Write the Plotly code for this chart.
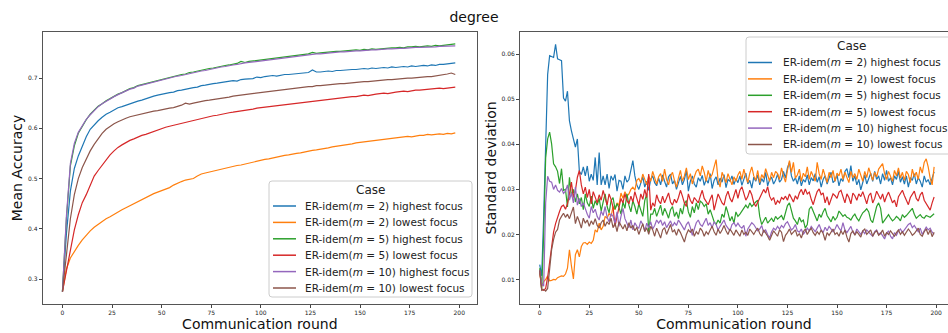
import plotly.graph_objects as go

# ---------------- data ----------------
rounds_acc = list(range(0, 200, 2))
rounds_std = list(range(200))

case_labels = [
    "ER-idem(<i>m</i> = 2) highest focus",
    "ER-idem(<i>m</i> = 2) lowest focus",
    "ER-idem(<i>m</i> = 5) highest focus",
    "ER-idem(<i>m</i> = 5) lowest focus",
    "ER-idem(<i>m</i> = 10) highest focus",
    "ER-idem(<i>m</i> = 10) lowest focus",
]
case_colors = ["#1f77b4", "#ff7f0e", "#2ca02c", "#d62728", "#9467bd", "#8c564b"]

x_ticks = [0, 25, 50, 75, 100, 125, 150, 175, 200]
acc_ticks = [0.3, 0.4, 0.5, 0.6, 0.7]
std_ticks = [0.01, 0.02, 0.03, 0.04, 0.05, 0.06]

# mean accuracy, every second round
acc_m2_high = [
    .275, .390, .475, .520, .545, .565, .583, .598, .607, .615,
    .622, .628, .632, .637, .641, .643, .646, .649, .651, .654,
    .656, .659, .661, .664, .666, .668, .669, .671, .672, .675,
    .676, .678, .679, .681, .682, .685, .686, .688, .689, .690,
    .691, .693, .694, .695, .694, .697, .698, .698, .699, .702,
    .701, .703, .704, .705, .704, .706, .707, .707, .708, .709,
    .709, .710, .711, .716, .712, .712, .713, .714, .713, .715,
    .715, .716, .716, .717, .717, .718, .719, .718, .720, .719,
    .720, .721, .720, .722, .721, .722, .723, .722, .724, .723,
    .724, .725, .724, .726, .725, .727, .727, .728, .729, .730,
]
acc_m2_low = [
    .275, .320, .342, .355, .367, .378, .388, .396, .403, .409,
    .415, .420, .424, .429, .434, .438, .442, .446, .450, .455,
    .459, .463, .466, .470, .473, .476, .479, .482, .487, .491,
    .494, .497, .499, .500, .505, .509, .511, .513, .515, .517,
    .518, .520, .522, .524, .526, .527, .529, .531, .533, .535,
    .536, .538, .539, .541, .543, .544, .546, .547, .549, .550,
    .551, .553, .555, .556, .557, .558, .560, .561, .563, .564,
    .565, .567, .568, .569, .571, .572, .573, .574, .575, .576,
    .577, .578, .579, .580, .581, .581, .582, .584, .583, .585,
    .586, .586, .588, .587, .588, .589, .588, .590, .589, .591,
]
acc_m5_high = [
    .275, .420, .525, .565, .590, .605, .617, .628, .636, .644,
    .649, .655, .659, .664, .668, .671, .675, .679, .681, .685,
    .687, .689, .692, .693, .696, .697, .700, .701, .704, .705,
    .707, .708, .711, .712, .714, .716, .717, .719, .720, .722,
    .724, .725, .726, .728, .729, .733, .731, .733, .734, .736,
    .737, .738, .739, .740, .741, .742, .743, .744, .745, .746,
    .747, .747, .748, .751, .749, .750, .751, .752, .752, .753,
    .753, .754, .755, .755, .756, .755, .757, .756, .758, .757,
    .758, .759, .759, .760, .760, .761, .760, .762, .762, .763,
    .762, .763, .764, .763, .765, .764, .765, .765, .766, .768,
]
acc_m5_low = [
    .275, .315, .360, .398, .428, .452, .468, .487, .505, .516,
    .526, .538, .547, .555, .562, .567, .572, .576, .579, .583,
    .586, .588, .591, .593, .596, .600, .602, .604, .606, .608,
    .610, .612, .614, .616, .618, .620, .622, .623, .625, .626,
    .628, .629, .631, .632, .633, .634, .636, .637, .638, .640,
    .641, .642, .643, .644, .645, .646, .647, .648, .649, .650,
    .651, .652, .653, .654, .655, .656, .657, .657, .658, .659,
    .660, .661, .662, .663, .663, .664, .666, .665, .667, .668,
    .669, .670, .669, .671, .672, .673, .674, .673, .675, .676,
    .676, .677, .678, .678, .679, .680, .679, .680, .681, .682,
]
acc_m10_high = [
    .275, .425, .530, .570, .592, .606, .618, .627, .636, .643,
    .649, .654, .659, .663, .667, .671, .674, .678, .680, .684,
    .686, .688, .691, .692, .694, .696, .698, .700, .702, .704,
    .705, .707, .709, .711, .712, .714, .715, .717, .719, .720,
    .722, .723, .725, .726, .727, .729, .730, .731, .732, .734,
    .735, .736, .737, .738, .739, .740, .741, .742, .743, .744,
    .745, .745, .746, .747, .748, .748, .749, .750, .750, .751,
    .752, .752, .753, .753, .754, .754, .755, .755, .756, .756,
    .757, .757, .758, .758, .759, .759, .759, .760, .760, .761,
    .761, .761, .762, .762, .762, .763, .763, .763, .764, .764,
]
acc_m10_low = [
    .275, .345, .420, .468, .500, .522, .540, .555, .568, .580,
    .590, .598, .604, .609, .613, .617, .620, .623, .625, .627,
    .629, .630, .632, .634, .635, .637, .638, .640, .641, .643,
    .646, .650, .648, .650, .652, .654, .655, .656, .657, .659,
    .660, .661, .662, .664, .665, .666, .668, .669, .670, .671,
    .672, .673, .674, .675, .676, .677, .678, .679, .679, .680,
    .681, .682, .683, .683, .685, .685, .686, .687, .687, .688,
    .689, .689, .690, .691, .691, .692, .693, .693, .694, .695,
    .695, .696, .697, .697, .698, .699, .699, .700, .700, .701,
    .701, .702, .703, .703, .704, .705, .706, .708, .710, .707,
]

# standard deviation, every round
std_m2_high = [
    .0133, .0108, .0240, .0410, .0555, .0597, .0595, .0593, .0622, .0590,
    .0588, .0586, .0503, .0496, .0518, .0452, .0430, .0410, .0394, .0412,
    .0340, .0333, .0350, .0330, .0352, .0318, .0334, .0320, .0371, .0310,
    .0382, .0310, .0330, .0310, .0334, .0302, .0330, .0320, .0333, .0296,
    .0320, .0318, .0300, .0330, .0316, .0322, .0340, .0364, .0330, .0310,
    .0300, .0312, .0328, .0305, .0318, .0298, .0322, .0330, .0315, .0308,
    .0325, .0310, .0332, .0318, .0305, .0328, .0334, .0312, .0320, .0300,
    .0316, .0329, .0310, .0322, .0342, .0296, .0318, .0330, .0312, .0305,
    .0326, .0318, .0331, .0309, .0322, .0314, .0335, .0302, .0320, .0328,
    .0310, .0325, .0316, .0333, .0304, .0322, .0318, .0330, .0311, .0324,
    .0315, .0330, .0309, .0321, .0336, .0312, .0320, .0303, .0327, .0318,
    .0332, .0310, .0324, .0316, .0338, .0308, .0322, .0327, .0312, .0320,
    .0334, .0316, .0322, .0340, .0325, .0348, .0360, .0330, .0318, .0326,
    .0312, .0330, .0308, .0322, .0316, .0332, .0310, .0326, .0319, .0335,
    .0316, .0328, .0305, .0322, .0330, .0312, .0326, .0338, .0315, .0320,
    .0332, .0308, .0324, .0318, .0340, .0346, .0326, .0353, .0318, .0330,
    .0310, .0322, .0299, .0318, .0332, .0312, .0326, .0336, .0318, .0340,
    .0322, .0330, .0312, .0335, .0320, .0342, .0318, .0326, .0310, .0330,
    .0322, .0340, .0316, .0328, .0312, .0330, .0305, .0326, .0320, .0335,
    .0312, .0326, .0318, .0305, .0330, .0316, .0322, .0310, .0325, .0339,
]
std_m2_low = [
    .0115, .0085, .0095, .0100, .0108, .0097, .0098, .0100, .0099, .0104,
    .0106, .0108, .0107, .0112, .0125, .0166, .0130, .0101, .0155, .0166,
    .0150, .0173, .0181, .0182, .0178, .0183, .0180, .0187, .0210, .0205,
    .0225, .0210, .0218, .0240, .0236, .0247, .0240, .0262, .0255, .0270,
    .0265, .0292, .0280, .0295, .0285, .0290, .0300, .0305, .0298, .0320,
    .0324, .0315, .0334, .0322, .0310, .0330, .0318, .0340, .0325, .0312,
    .0328, .0335, .0318, .0345, .0322, .0310, .0330, .0338, .0320, .0305,
    .0326, .0342, .0318, .0330, .0348, .0322, .0335, .0312, .0328, .0340,
    .0345, .0330, .0352, .0338, .0318, .0342, .0326, .0333, .0350, .0366,
    .0320, .0305, .0338, .0325, .0315, .0335, .0322, .0310, .0328, .0318,
    .0332, .0340, .0322, .0345, .0328, .0315, .0336, .0350, .0330, .0320,
    .0342, .0315, .0333, .0325, .0346, .0330, .0318, .0338, .0326, .0340,
    .0335, .0322, .0348, .0330, .0316, .0342, .0364, .0338, .0360, .0325,
    .0332, .0345, .0318, .0336, .0328, .0350, .0322, .0340, .0330, .0318,
    .0360, .0335, .0322, .0345, .0330, .0315, .0338, .0326, .0342, .0318,
    .0336, .0330, .0345, .0322, .0338, .0328, .0315, .0340, .0326, .0335,
    .0322, .0345, .0330, .0318, .0340, .0326, .0348, .0332, .0320, .0338,
    .0328, .0345, .0352, .0357, .0335, .0322, .0340, .0330, .0318, .0342,
    .0330, .0348, .0325, .0338, .0320, .0340, .0333, .0315, .0345, .0328,
    .0338, .0322, .0350, .0336, .0360, .0368, .0350, .0325, .0310, .0350,
]
std_m5_high = [
    .0125, .0078, .0200, .0370, .0412, .0427, .0401, .0357, .0350, .0340,
    .0313, .0346, .0298, .0300, .0261, .0327, .0285, .0300, .0272, .0290,
    .0268, .0282, .0255, .0290, .0270, .0262, .0285, .0258, .0275, .0265,
    .0280, .0252, .0272, .0290, .0262, .0248, .0275, .0282, .0256, .0268,
    .0260, .0245, .0272, .0258, .0290, .0265, .0250, .0275, .0262, .0245,
    .0268, .0255, .0240, .0275, .0290, .0205, .0245, .0245, .0258, .0240,
    .0252, .0265, .0242, .0258, .0248, .0236, .0255, .0262, .0240, .0250,
    .0235, .0258, .0245, .0268, .0275, .0250, .0238, .0262, .0248, .0270,
    .0255, .0274, .0270, .0262, .0268, .0245, .0255, .0240, .0228, .0222,
    .0232, .0225, .0245, .0238, .0262, .0248, .0230, .0240, .0225, .0250,
    .0240, .0245, .0252, .0260, .0265, .0258, .0270, .0262, .0268, .0272,
    .0276, .0240, .0222, .0230, .0238, .0225, .0232, .0236, .0228, .0240,
    .0234, .0238, .0242, .0232, .0248, .0264, .0270, .0252, .0236, .0230,
    .0222, .0238, .0228, .0232, .0214, .0222, .0256, .0262, .0250, .0238,
    .0230, .0245, .0238, .0250, .0258, .0242, .0235, .0228, .0240, .0232,
    .0238, .0252, .0246, .0240, .0244, .0238, .0236, .0232, .0240, .0245,
    .0236, .0230, .0240, .0248, .0252, .0257, .0250, .0232, .0226, .0245,
    .0262, .0270, .0258, .0225, .0232, .0240, .0244, .0236, .0230, .0234,
    .0240, .0236, .0230, .0244, .0238, .0242, .0248, .0252, .0258, .0245,
    .0236, .0240, .0244, .0238, .0236, .0242, .0240, .0238, .0242, .0246,
]
std_m5_low = [
    .0120, .0078, .0076, .0080, .0105, .0137, .0180, .0205, .0224, .0240,
    .0251, .0262, .0265, .0256, .0268, .0290, .0316, .0282, .0298, .0327,
    .0342, .0310, .0290, .0305, .0282, .0300, .0268, .0295, .0280, .0270,
    .0288, .0276, .0298, .0282, .0265, .0290, .0278, .0260, .0218, .0240,
    .0262, .0280, .0270, .0290, .0275, .0268, .0285, .0272, .0295, .0280,
    .0265, .0290, .0278, .0300, .0282, .0334, .0254, .0270, .0262, .0288,
    .0275, .0268, .0285, .0270, .0280, .0292, .0272, .0265, .0278, .0270,
    .0282, .0298, .0285, .0270, .0262, .0290, .0276, .0268, .0282, .0275,
    .0270, .0285, .0298, .0280, .0272, .0266, .0278, .0288, .0254, .0272,
    .0290, .0280, .0270, .0265, .0285, .0296, .0280, .0272, .0288, .0300,
    .0280, .0298, .0306, .0290, .0276, .0284, .0298, .0288, .0270, .0262,
    .0272, .0280, .0290, .0300, .0292, .0306, .0285, .0276, .0282, .0266,
    .0275, .0270, .0282, .0278, .0285, .0276, .0290, .0280, .0272, .0286,
    .0278, .0292, .0300, .0288, .0301, .0290, .0294, .0278, .0266, .0282,
    .0295, .0301, .0288, .0292, .0270, .0284, .0265, .0278, .0290, .0286,
    .0280, .0294, .0298, .0284, .0270, .0290, .0282, .0268, .0292, .0286,
    .0276, .0290, .0284, .0295, .0280, .0268, .0286, .0292, .0270, .0280,
    .0296, .0288, .0278, .0290, .0272, .0285, .0294, .0282, .0270, .0276,
    .0261, .0284, .0292, .0298, .0286, .0276, .0266, .0282, .0290, .0296,
    .0280, .0274, .0288, .0294, .0276, .0268, .0260, .0254, .0270, .0283,
]
std_m10_high = [
    .0120, .0090, .0085, .0270, .0329, .0318, .0316, .0300, .0310, .0298,
    .0294, .0302, .0291, .0296, .0310, .0276, .0292, .0270, .0305, .0265,
    .0280, .0262, .0270, .0255, .0245, .0236, .0262, .0248, .0256, .0240,
    .0232, .0252, .0242, .0262, .0238, .0228, .0246, .0240, .0225, .0250,
    .0218, .0240, .0258, .0235, .0224, .0215, .0232, .0210, .0226, .0218,
    .0214, .0230, .0222, .0208, .0225, .0215, .0228, .0212, .0220, .0232,
    .0225, .0232, .0220, .0228, .0215, .0224, .0230, .0218, .0226, .0220,
    .0232, .0225, .0218, .0210, .0222, .0228, .0215, .0198, .0212, .0226,
    .0232, .0222, .0218, .0228, .0236, .0220, .0226, .0215, .0228, .0222,
    .0210, .0218, .0226, .0232, .0220, .0214, .0208, .0222, .0226, .0218,
    .0225, .0218, .0214, .0220, .0196, .0212, .0218, .0226, .0222, .0215,
    .0208, .0212, .0220, .0204, .0210, .0200, .0192, .0206, .0214, .0210,
    .0218, .0212, .0220, .0215, .0224, .0228, .0218, .0210, .0214, .0222,
    .0208, .0205, .0212, .0200, .0206, .0214, .0208, .0218, .0212, .0206,
    .0214, .0222, .0210, .0204, .0216, .0208, .0218, .0212, .0206, .0212,
    .0222, .0214, .0208, .0226, .0210, .0204, .0212, .0218, .0205, .0200,
    .0212, .0206, .0200, .0208, .0202, .0210, .0204, .0200, .0196, .0206,
    .0210, .0200, .0204, .0198, .0190, .0202, .0208, .0196, .0190, .0204,
    .0198, .0208, .0212, .0204, .0210, .0216, .0222, .0225, .0215, .0220,
    .0212, .0206, .0214, .0200, .0208, .0216, .0210, .0214, .0205, .0200,
]
std_m10_low = [
    .0120, .0076, .0078, .0074, .0080, .0122, .0166, .0189, .0205, .0211,
    .0232, .0240, .0247, .0238, .0245, .0235, .0250, .0261, .0224, .0240,
    .0228, .0214, .0236, .0225, .0232, .0218, .0230, .0222, .0235, .0220,
    .0214, .0226, .0232, .0218, .0228, .0222, .0236, .0215, .0225, .0206,
    .0228, .0218, .0212, .0222, .0208, .0226, .0214, .0220, .0208, .0216,
    .0200, .0212, .0224, .0206, .0215, .0200, .0218, .0210, .0196, .0214,
    .0204, .0192, .0210, .0215, .0200, .0212, .0222, .0205, .0210, .0198,
    .0212, .0204, .0194, .0183, .0200, .0210, .0205, .0212, .0196, .0206,
    .0200, .0214, .0208, .0196, .0206, .0200, .0210, .0218, .0206, .0198,
    .0212, .0202, .0210, .0220, .0208, .0200, .0212, .0206, .0198, .0210,
    .0204, .0196, .0210, .0200, .0205, .0198, .0212, .0206, .0200, .0208,
    .0214, .0202, .0196, .0210, .0204, .0196, .0187, .0200, .0208, .0202,
    .0196, .0210, .0205, .0184, .0198, .0204, .0212, .0200, .0206, .0210,
    .0196, .0202, .0192, .0206, .0212, .0200, .0208, .0214, .0204, .0198,
    .0206, .0200, .0210, .0202, .0187, .0204, .0198, .0206, .0212, .0200,
    .0204, .0196, .0208, .0200, .0210, .0194, .0183, .0202, .0208, .0198,
    .0206, .0200, .0194, .0208, .0212, .0200, .0204, .0210, .0196, .0204,
    .0208, .0198, .0202, .0210, .0196, .0204, .0200, .0208, .0202, .0196,
    .0204, .0210, .0200, .0206, .0198, .0204, .0212, .0206, .0198, .0202,
    .0208, .0214, .0200, .0196, .0206, .0212, .0200, .0210, .0195, .0205,
]

acc_series = [acc_m2_high, acc_m2_low, acc_m5_high, acc_m5_low, acc_m10_high, acc_m10_low]
std_series = [std_m2_high, std_m2_low, std_m5_high, std_m5_low, std_m10_high, std_m10_low]

# ---------------- figure ----------------
W, H = 948, 333
FONT = "DejaVu Sans"
LINE_W = 1.2


def fx(px):
    """pixel column -> paper x"""
    return px / W


def fy(py):
    """pixel row (from top) -> paper y"""
    return 1 - py / H


fig = go.Figure()

for name, color, ys in zip(case_labels, case_colors, acc_series):
    fig.add_trace(go.Scatter(
        x=rounds_acc, y=ys, mode="lines", name=name, showlegend=False,
        line=dict(color=color, width=LINE_W), xaxis="x", yaxis="y",
    ))

for name, color, ys in zip(case_labels, case_colors, std_series):
    fig.add_trace(go.Scatter(
        x=rounds_std, y=ys, mode="lines", name=name, showlegend=False,
        line=dict(color=color, width=LINE_W), xaxis="x2", yaxis="y2",
    ))

# compact legend boxes ("Case") drawn as layout decorations
legend_boxes = [
    dict(left=269, right=472, top=181, bottom=297, title_y=190,
         first_row=206, line_x0=273, line_x1=296, text_x=303),
    dict(left=746, right=956, top=37, bottom=154, title_y=46,
         first_row=62.5, line_x0=748, line_x1=772, text_x=781),
]
ROW_STEP = 16.4
CORNER = 3

shapes, annotations = [], []
for box in legend_boxes:
    l, r, t, b = box["left"], box["right"], box["top"], box["bottom"]
    rx, ry = CORNER / W, CORNER / H
    x0, x1, y0, y1 = fx(l), fx(r), fy(b), fy(t)
    path = (f"M {x0 + rx},{y0} L {x1 - rx},{y0} Q {x1},{y0} {x1},{y0 + ry} "
            f"L {x1},{y1 - ry} Q {x1},{y1} {x1 - rx},{y1} "
            f"L {x0 + rx},{y1} Q {x0},{y1} {x0},{y1 - ry} "
            f"L {x0},{y0 + ry} Q {x0},{y0} {x0 + rx},{y0} Z")
    shapes.append(dict(type="path", path=path, xref="paper", yref="paper",
                       fillcolor="rgba(255,255,255,0.8)",
                       line=dict(color="#cccccc", width=1), layer="above"))
    annotations.append(dict(text="Case", x=fx((l + r) / 2), y=fy(box["title_y"]),
                            xref="paper", yref="paper", xanchor="center",
                            yanchor="middle", showarrow=False,
                            font=dict(family=FONT, size=12, color="#222222")))
    for i, (name, color) in enumerate(zip(case_labels, case_colors)):
        row_y = fy(box["first_row"] + i * ROW_STEP)
        shapes.append(dict(type="line", xref="paper", yref="paper",
                           x0=fx(box["line_x0"]), x1=fx(box["line_x1"]),
                           y0=row_y, y1=row_y, layer="above",
                           line=dict(color=color, width=LINE_W + 0.3)))
        annotations.append(dict(text=name, x=fx(box["text_x"]), y=row_y,
                                xref="paper", yref="paper", xanchor="left",
                                yanchor="middle", showarrow=False,
                                font=dict(family=FONT, size=10.5, color="#222222")))

axis_common = dict(
    showline=True, linecolor="#555555", linewidth=1, mirror=True,
    showgrid=False, zeroline=False,
    ticks="outside", ticklen=3, tickwidth=1, tickcolor="#444444",
    tickfont=dict(family=FONT, size=6, color="#222222"),
)

fig.update_layout(
    width=W, height=H,
    margin=dict(l=0, r=0, t=0, b=0, autoexpand=False),
    paper_bgcolor="white", plot_bgcolor="white",
    showlegend=False,
    font=dict(family=FONT, color="#111111"),
    title=dict(text="degree", x=0.5, xanchor="center", y=fy(17),
               yanchor="middle", font=dict(family=FONT, size=14, color="#111111")),
    xaxis=dict(domain=[fx(42.7), fx(477)], range=[-9.95, 208.95],
               tickvals=x_ticks, ticktext=[str(v) for v in x_ticks],
               title=dict(text="Communication round", standoff=1,
                          font=dict(family=FONT, size=14)),
               anchor="y", **axis_common),
    yaxis=dict(domain=[fy(304), fy(32)], range=[0.2504, 0.7916],
               tickvals=acc_ticks, ticktext=[f"{v:.1f}" for v in acc_ticks],
               title=dict(text="Mean Accuracy", standoff=2,
                          font=dict(family=FONT, size=14)),
               anchor="x", **axis_common),
    xaxis2=dict(domain=[fx(520), 1.0], range=[-9.95, 206.0],
                tickvals=x_ticks, ticktext=[str(v) for v in x_ticks],
                title=dict(text="Communication round", standoff=1,
                           font=dict(family=FONT, size=14)),
                anchor="y2", **axis_common),
    yaxis2=dict(domain=[fy(304), fy(32)], range=[0.00455, 0.06495],
                tickvals=std_ticks, ticktext=[f"{v:.2f}" for v in std_ticks],
                title=dict(text="Standard deviation", standoff=1,
                           font=dict(family=FONT, size=14)),
                anchor="x2", **axis_common),
    shapes=shapes,
    annotations=annotations,
)

fig.write_html("out.html")
